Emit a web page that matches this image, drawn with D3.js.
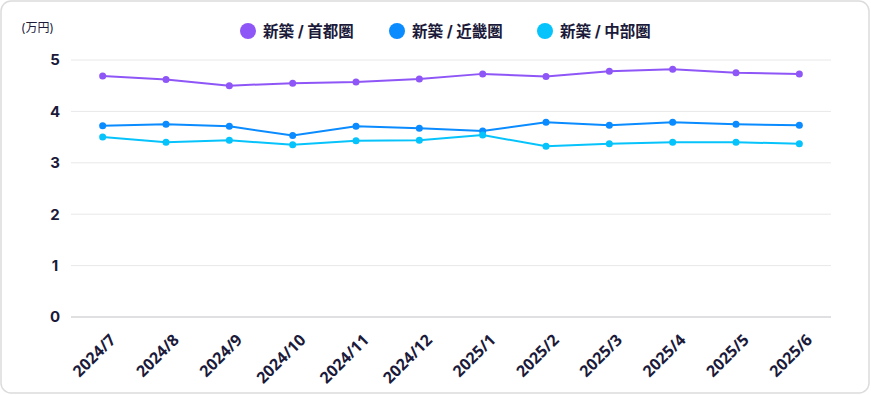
<!DOCTYPE html>
<html>
<head>
<meta charset="utf-8">
<script src="https://cdn.jsdelivr.net/npm/d3@7"></script>
<style>
  html, body { margin: 0; padding: 0; background: #fff; }
  body { font-family: Inter, "Noto Sans CJK JP", sans-serif; }
</style>
</head>
<body>
<div id="chart"></div>
<script>
const months = ['2024/7', '2024/8', '2024/9', '2024/10', '2024/11', '2024/12',
  '2025/1', '2025/2', '2025/3', '2025/4', '2025/5', '2025/6'];
const shutoken = [4.69, 4.62, 4.50, 4.55, 4.57, 4.63, 4.73, 4.68, 4.78, 4.82, 4.75, 4.73];
const kinki = [3.72, 3.75, 3.71, 3.53, 3.71, 3.67, 3.62, 3.79, 3.73, 3.79, 3.75, 3.73];
const chubu = [3.50, 3.40, 3.44, 3.35, 3.43, 3.44, 3.54, 3.32, 3.37, 3.40, 3.40, 3.37];
const seriesNames = ['新築 / 首都圏', '新築 / 近畿圏', '新築 / 中部圏'];
const seriesColors = ['#8f56f7', '#0a8bff', '#06c3fb'];
const yTicks = [0, 1, 2, 3, 4, 5];

const series = [shutoken, kinki, chubu].map((v, i) => ({ name: seriesNames[i], color: seriesColors[i], values: v }));

const dims = { width: 871, height: 395 };
const margin = { left: 71, right: 40, top: 60, bottom: 78 };
const ink = '#1b1a3a';

const svg = d3.select('#chart').append('svg')
  .attr('width', dims.width)
  .attr('height', dims.height);

// card
svg.append('rect')
  .attr('x', 1).attr('y', 1)
  .attr('width', dims.width - 3).attr('height', dims.height - 3)
  .attr('rx', 10)
  .attr('fill', '#fff')
  .attr('stroke', '#dcdcdc')
  .attr('stroke-width', 1.5);

const x = d3.scaleBand()
  .domain(months)
  .range([margin.left, dims.width - margin.right]);

const y = d3.scaleLinear()
  .domain([0, 5])
  .range([dims.height - margin.bottom, margin.top]);

// grid
svg.append('g')
  .selectAll('line')
  .data(yTicks)
  .join('line')
  .attr('x1', margin.left)
  .attr('x2', dims.width - margin.right)
  .attr('y1', d => y(d))
  .attr('y2', d => y(d))
  .attr('stroke', d => d === 0 ? '#d6d6d9' : '#e8e8ea')
  .attr('stroke-width', d => d === 0 ? 1.5 : 1);

// y labels
svg.append('g')
  .selectAll('text')
  .data(yTicks)
  .join('text')
  .attr('x', 55)
  .attr('y', d => y(d))
  .attr('dy', '0.36em')
  .attr('text-anchor', 'middle')
  .attr('font-size', 15)
  .attr('font-weight', 700)
  .attr('fill', ink)
  .text(d => d);

svg.append('text')
  .attr('x', 21).attr('y', 32)
  .attr('font-size', 12)
  .attr('fill', ink)
  .text('(万円)');

// x labels
svg.append('g')
  .selectAll('text')
  .data(months)
  .join('text')
  .attr('transform', d => `translate(${x(d) + x.bandwidth() / 2 + 10},${dims.height - margin.bottom + 20}) rotate(-45)`)
  .attr('text-anchor', 'end')
  .attr('dy', '0.35em')
  .attr('font-family', '"Open Sans", sans-serif')
  .attr('font-size', 16)
  .attr('font-weight', 700)
  .attr('fill', ink)
  .text(d => d);

const cx = (_, i) => x(months[i]) + x.bandwidth() / 2;
const line = d3.line()
  .x(cx)
  .y(d => y(d));

const g = svg.append('g');
series.forEach(s => {
  g.append('path')
    .datum(s.values)
    .attr('fill', 'none')
    .attr('stroke', s.color)
    .attr('stroke-width', 2)
    .attr('d', line);
  g.append('g')
    .selectAll('circle')
    .data(s.values)
    .join('circle')
    .attr('cx', cx)
    .attr('cy', d => y(d))
    .attr('r', 3.5)
    .attr('fill', s.color);
});

// legend
const legendX = [248, 397, 545];
const legend = svg.append('g')
  .selectAll('g')
  .data(series)
  .join('g')
  .attr('transform', (d, i) => `translate(${legendX[i]},31)`);
legend.append('circle')
  .attr('r', 8)
  .attr('fill', d => d.color);
legend.append('text')
  .attr('x', 15)
  .attr('dy', '0.36em')
  .attr('font-size', 15.5)
  .attr('font-weight', 700)
  .attr('fill', ink)
  .text(d => d.name);
</script>
</body>
</html>
